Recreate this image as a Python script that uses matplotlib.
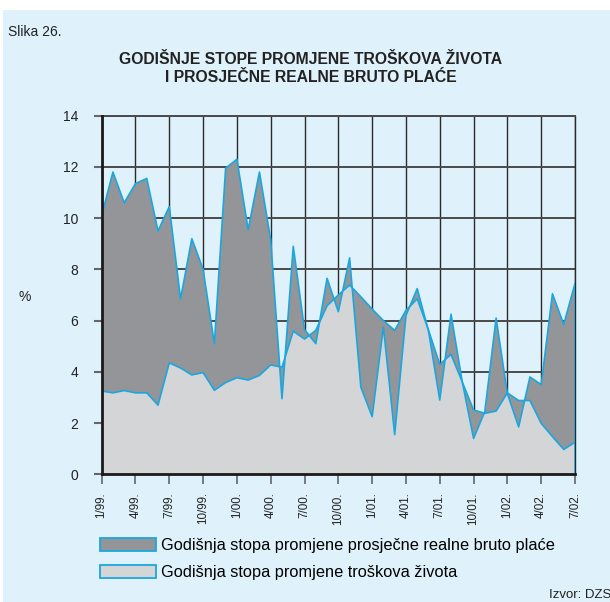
import numpy as np
import matplotlib.pyplot as plt
from matplotlib.patches import Patch, Rectangle

# mjeseci 1/99. - 7/02.
mjeseci = [f'{m}/{g:02d}.' for g in (99, 0, 1, 2) for m in range(1, 13)][:43]

# godisnja stopa promjene prosjecne realne bruto place (%)
placa = [10.1, 11.8, 10.6, 11.35, 11.55, 9.5, 10.45, 6.85, 9.2, 8.0,
         5.1, 11.95, 12.3, 9.55, 11.8, 9.15, 2.95, 8.9, 5.65, 5.1,
         7.65, 6.35, 8.45, 3.4, 2.25, 5.75, 1.55, 6.2, 7.25, 5.6,
         2.9, 6.25, 3.6, 1.4, 2.45, 6.1, 3.15, 1.85, 3.8, 3.5,
         7.05, 5.85, 7.45]

# godisnja stopa promjene troskova zivota (%)
troskovi = [3.25, 3.18, 3.27, 3.18, 3.18, 2.7, 4.35, 4.15, 3.88, 3.97,
            3.28, 3.58, 3.77, 3.68, 3.86, 4.27, 4.18, 5.59, 5.28, 5.62,
            6.58, 7.0, 7.39, 6.93, 6.45, 6.0, 5.62, 6.4, 6.85, 5.63,
            4.29, 4.68, 3.6, 2.51, 2.38, 2.47, 3.18, 2.88, 2.88, 1.99,
            1.47, 0.97, 1.25]

labels = ['Godišnja stopa promjene prosječne realne bruto plaće',
          'Godišnja stopa promjene troškova života']

bg = '#dff1fb'
tamna = '#939598'
svijetla = '#d4d5d7'
cyan = '#1aa7e0'

plt.rcParams['font.family'] = ['Liberation Sans', 'DejaVu Sans']

fig = plt.figure(figsize=(6.1, 6.02), dpi=100)
fig.patch.set_facecolor('white')
fig.patches.append(Rectangle((3/610, 0), 1, 1 - 10/602, transform=fig.transFigure,
                             facecolor=bg, edgecolor='none', zorder=-10))

ax = fig.add_axes([101.67/610, 1 - 474.3/602, 473.33/610, 358.6/602])
ax.set_facecolor(bg)

x = np.arange(len(mjeseci))
w = np.array(placa)
c = np.array(troskovi)

# svijetla povrsina ispod troskova, tamna izmedju dviju linija
ax.fill_between(x, 0, c, facecolor=svijetla, edgecolor='none', zorder=2)
ax.fill_between(x, c, w, interpolate=True, facecolor=tamna, edgecolor='none', zorder=3)
ax.plot(x, w, color=cyan, lw=1.2, zorder=4)
ax.plot(x, c, color=cyan, lw=1.2, zorder=4)
ax.vlines(x[-1], 0, max(w[-1], c[-1]), color=cyan, lw=1.2, zorder=4)

ax.set_xlim(0, x[-1])
ax.set_ylim(0, 14)
ax.set_xticks(x[::3])
ax.set_xticklabels(mjeseci[::3], rotation=90, fontsize=8.4, color='#222222')
ax.set_yticks(np.arange(0, 15, 2))
ax.set_yticklabels([str(v) for v in range(0, 15, 2)],
                   family=['Liberation Sans Narrow', 'Liberation Sans'], fontsize=10, color='#222222')
ax.tick_params(axis='x', length=7, width=1.2, color='#666666', pad=6)
ax.tick_params(axis='y', length=6, width=1.5, color='#666666', pad=11)

ax.set_axisbelow(True)
ax.grid(axis='y', color='#4a4a4a', lw=1.4)
ax.grid(axis='x', color='#2a2a2a', lw=1.0)
for s in ['left', 'bottom']:
    ax.spines[s].set_linewidth(2)
    ax.spines[s].set_color('#1a1a1a')
    ax.spines[s].set_zorder(5)
ax.spines['top'].set_color('#4a4a4a')
ax.spines['top'].set_linewidth(1.4)
ax.spines['right'].set_color('#2a2a2a')
ax.spines['right'].set_linewidth(1.0)

fig.text(8/610, 1 - 31.7/602, 'Slika 26.', fontsize=10, va='center', ha='left', color='#222222')
fig.text(311/610, 1 - 68.5/602,
         'GODIŠNJE STOPE PROMJENE TROŠKOVA ŽIVOTA\nI PROSJEČNE REALNE BRUTO PLAĆE',
         fontsize=11.3, fontweight='bold', ha='center', va='center', linespacing=1.3,
         color='#222222')
fig.text(25/610, 1 - 297/602, '%', fontsize=10, ha='center', va='center', color='#222222')

handles = [Patch(facecolor=tamna, edgecolor=cyan, lw=1.3),
           Patch(facecolor=svijetla, edgecolor=cyan, lw=1.3)]
fig.legend(handles, labels, loc='upper left', bbox_to_anchor=(100.4/610, 1 - 538/602),
           frameon=False, fontsize=11.8, handlelength=3.41, handleheight=0.85,
           handletextpad=0.3, labelspacing=0.72, borderpad=0, borderaxespad=0)

fig.text(549/610, 1/602, 'Izvor: DZS', fontsize=9.5, ha='left', va='bottom', color='#222222')

fig.savefig('out.png', dpi=100, facecolor=fig.get_facecolor())
